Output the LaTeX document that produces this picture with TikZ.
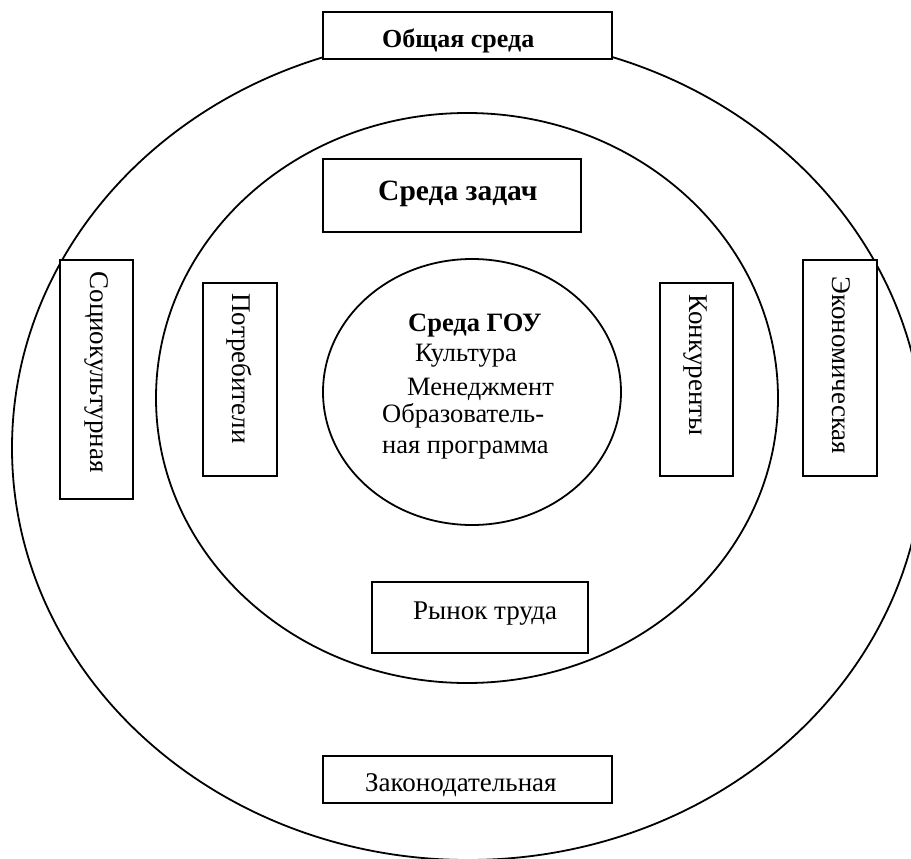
\documentclass[tikz,border=0pt]{standalone}
\usepackage{fontspec}
\setmainfont{Liberation Serif}
\usetikzlibrary{shapes.geometric}
\begin{document}
\begin{tikzpicture}[x=1pt,y=-1pt,
  ring/.style={draw, ellipse, line width=1.8pt, inner sep=0pt},
  box/.style={draw, rectangle, fill=white, line width=1.8pt, inner sep=0pt},
  txt/.style={inner sep=0pt, font=\fontsize{27}{30}\selectfont},
  itxt/.style={inner sep=0pt, font=\fontsize{26.5}{30}\selectfont},
  vtxt/.style={inner sep=0pt, rotate=-90, font=\fontsize{27}{30}\selectfont}]
\useasboundingbox (0,0) rectangle (911,859);
\clip (0,0) rectangle (911,859);
% rings
\node[ring, minimum width=912pt, minimum height=824pt] (outer) at (468,448) {};
\node[ring, minimum width=622pt, minimum height=570pt] (middle) at (467,398) {};
\node[ring, minimum width=298pt, minimum height=266pt] (inner) at (472,392) {};
% boxes
\node[box, minimum width=289pt, minimum height=47pt] (obsh) at (467.5,35.5) {};
\node[inner sep=0pt, font=\fontsize{26}{30}\selectfont\bfseries, anchor=base west] (obsh-t) at (382,47.3) {Общая среда};
\node[box, minimum width=258pt, minimum height=73pt] (zad) at (452,195.5) {};
\node[inner sep=0pt, font=\fontsize{29.5}{30}\selectfont\bfseries, anchor=base west] (zad-t) at (378,200) {Среда задач};
\node[box, minimum width=73pt, minimum height=239pt] (soc) at (96.5,379.5) {};
\node[vtxt] (soc-t) at (96.5,372) {Социокультурная};
\node[box, minimum width=74pt, minimum height=193pt] (potr) at (240,379.5) {};
\node[vtxt] (potr-t) at (239,368.5) {Потребители};
\node[box, minimum width=73pt, minimum height=193pt] (konk) at (696.5,379.5) {};
\node[vtxt] (konk-t) at (695,365) {Конкуренты};
\node[box, minimum width=74pt, minimum height=216pt] (ekon) at (840,368) {};
\node[vtxt] (ekon-t) at (841,365.5) {Экономическая};
\node[box, minimum width=216pt, minimum height=71pt] (ryn) at (480,617.5) {};
\node[txt, anchor=base west] (ryn-t) at (413,619) {Рынок труда};
\node[box, minimum width=289pt, minimum height=47pt] (zak) at (467.5,779.5) {};
\node[txt, anchor=base west] (zak-t) at (365,791.7) {Законодательная};
% inner text
\node[inner sep=0pt, font=\fontsize{26.5}{30}\selectfont\bfseries, anchor=base west] (gou) at (408,331.7) {Среда ГОУ};
\node[itxt, anchor=base west] (kult) at (415,361.7) {Культура};
\node[itxt, anchor=base west] (men) at (407,395) {Менеджмент};
\node[itxt, anchor=base west] (obr1) at (382,422.7) {Образователь-};
\node[itxt, anchor=base west] (obr2) at (382,453) {ная программа};
\end{tikzpicture}
\end{document}
